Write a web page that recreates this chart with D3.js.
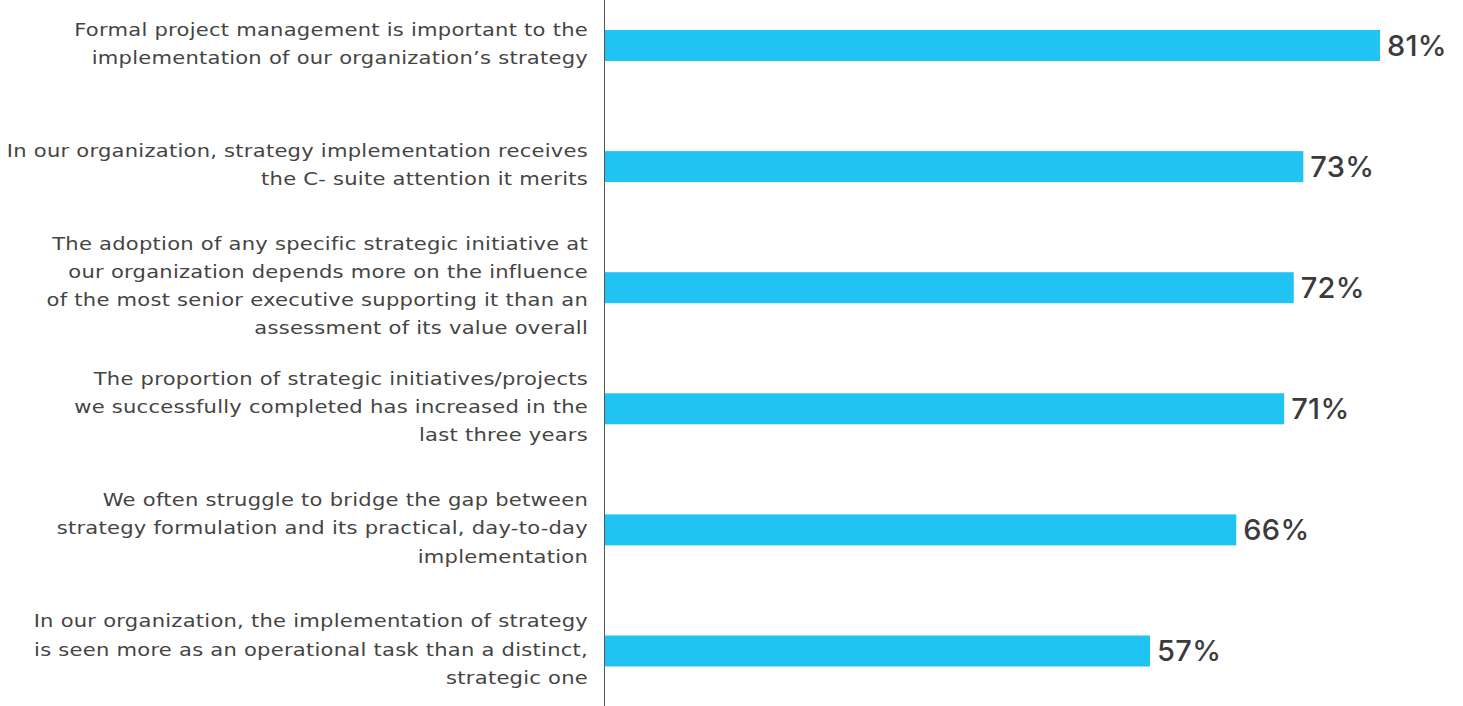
<!DOCTYPE html>
<html>
<head>
<meta charset="utf-8">
<script src="https://cdn.jsdelivr.net/npm/d3@7"></script>
<style>
  body { margin: 0; background: #fff; }
  #chart svg { display: block; }
</style>
</head>
<body>
<div id="chart"></div>
<script>
// statements, one entry per bar, already broken into lines as in the source
const categories = [
    ["Formal project management is important to the", "implementation of our organization\u2019s strategy"],
    ["In our organization, strategy implementation receives", "the C- suite attention it merits"],
    ["The adoption of any specific strategic initiative at", "our organization depends more on the influence", "of the most senior executive supporting it than an", "assessment of its value overall"],
    ["The proportion of strategic initiatives/projects", "we successfully completed has increased in the", "last three years"],
    ["We often struggle to bridge the gap between", "strategy formulation and its practical, day-to-day", "implementation"],
    ["In our organization, the implementation of strategy", "is seen more as an operational task than a distinct,", "strategic one"]
]
const values = [81, 73, 72, 71, 66, 57]

const drawBarchart = () => {
    d3.select("#chart svg").remove();
    const width = 1463, height = 706;
    const axisX = 604;

    var svg = d3.select("#chart").append("svg")
        .attr("width", width)
        .attr("height", height);

    // set the ranges
    var x = d3.scaleLinear()
        .domain([0, 100])
        .range([axisX, axisX + 958]);
    var y = d3.scaleBand()
        .domain(d3.range(values.length))
        .range([-15.05, 711.55])
        .paddingInner(0.744)
        .paddingOuter(0.372);

    const data = values.map((v, i) => ({ i: i, value: v, lines: categories[i] }));

    svg.selectAll(".bar")
        .data(data)
        .enter().append("rect")
        .attr("class", "bar")
        .attr("x", x(0))
        .attr("y", d => y(d.i))
        .attr("width", d => x(d.value) - x(0))
        .attr("height", y.bandwidth())
        .style("fill", "#21c3f2");

    // value labels
    svg.selectAll(".val")
        .data(data)
        .enter().append("text")
        .attr("class", "val")
        .attr("x", d => x(d.value) + 7)
        .attr("y", d => y(d.i) + y.bandwidth() / 2)
        .attr("dy", "0.36em")
        .style("font-family", "Inter, 'Open Sans', sans-serif")
        .style("font-size", "29px")
        .style("font-weight", 500)
        .style("letter-spacing", "0.3px")
        .style("fill", "#3b3b3b")
        .text(d => d.value + "%");

    // category labels (source font is an extended face, so stretch horizontally)
    const lineH = 28.1;
    const lab = svg.selectAll(".lab")
        .data(data)
        .enter().append("text")
        .attr("class", "lab")
        .attr("text-anchor", "end")
        .attr("transform", "translate(588,0) scale(1.205,1)")
        .style("font-family", "'DejaVu Sans'")
        .style("font-size", "17.5px")
        .style("letter-spacing", "0.2px")
        .style("fill", "#444");
    lab.each(function (d) {
        const cy = y(d.i) + y.bandwidth() / 2;
        const top = cy - (d.lines.length - 1) * lineH / 2;
        d3.select(this).selectAll("tspan")
            .data(d.lines)
            .enter().append("tspan")
            .attr("x", 0)
            .attr("y", (t, j) => top + j * lineH)
            .attr("dy", "0.26em")
            .text(t => t);
    });

    // vertical axis line
    svg.append("line")
        .attr("x1", axisX + 0.5).attr("x2", axisX + 0.5)
        .attr("y1", 0).attr("y2", height)
        .style("stroke", "#555")
        .style("stroke-width", 1);
}

drawBarchart();
</script>
</body>
</html>
